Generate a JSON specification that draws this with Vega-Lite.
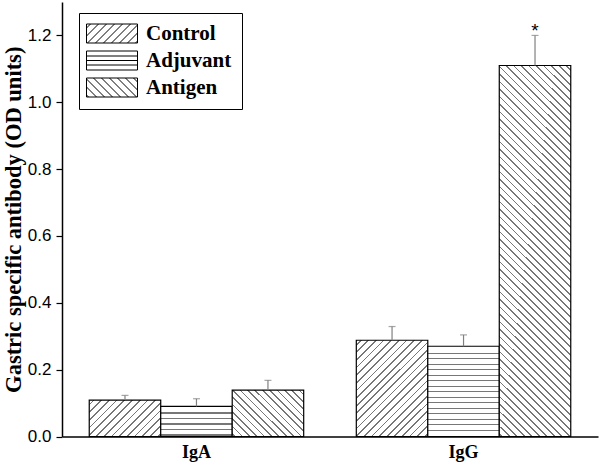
{
"$schema": "https://vega.github.io/schema/vega-lite/v6.json",
"autosize": {"type": "none"},
"padding": {"left": 62, "top": 2, "right": 2, "bottom": 27.5},
"width": 536,
"height": 434.5,
"background": "white",
"config": {"view": {"stroke": null}},
"data": {"values": [
 {"ig": "IgA", "group": "Control", "value": 0.109, "upper": 0.123, "sig": ""},
 {"ig": "IgA", "group": "Adjuvant", "value": 0.090, "upper": 0.113, "sig": ""},
 {"ig": "IgA", "group": "Antigen", "value": 0.139, "upper": 0.168, "sig": ""},
 {"ig": "IgG", "group": "Control", "value": 0.288, "upper": 0.329, "sig": ""},
 {"ig": "IgG", "group": "Adjuvant", "value": 0.270, "upper": 0.304, "sig": ""},
 {"ig": "IgG", "group": "Antigen", "value": 1.110, "upper": 1.200, "sig": "*"}
]},
"encoding": {
 "x": {"field": "ig", "type": "nominal", "sort": null,
  "scale": {"domain": ["IgA", "IgG"], "paddingInner": 0.197, "paddingOuter": 0.102},
  "axis": {"title": null, "ticks": false, "labelAngle": 0, "labelFont": "Liberation Serif", "labelFontWeight": "bold", "labelFontSize": 18, "labelColor": "black", "labelPadding": 7, "domainColor": "black", "domainWidth": 1.5}},
 "xOffset": {"field": "group", "type": "nominal", "sort": null,
  "scale": {"domain": ["Control", "Adjuvant", "Antigen"], "paddingInner": 0, "paddingOuter": 0}}
},
"layer": [
 {
  "mark": {"type": "bar", "stroke": "black", "strokeWidth": 1.2},
  "encoding": {
   "y": {"field": "value", "type": "quantitative",
    "scale": {"domain": [0, 1.3], "nice": false},
    "axis": {"title": "Gastric specific antibody (OD units)", "titleFont": "Liberation Serif", "titleFontWeight": "bold", "titleFontSize": 22.5, "titleColor": "black", "titleX": -37, "titleBaseline": "bottom",
     "values": [0, 0.1, 0.2, 0.3, 0.4, 0.5, 0.6, 0.7, 0.8, 0.9, 1, 1.1, 1.2, 1.3],
     "labelExpr": "round(datum.value*10)%2===0 ? format(datum.value,'.1f') : ''",
     "labelFont": "Liberation Sans", "labelFontSize": 17, "labelColor": "black", "labelPadding": 5,
     "tickSize": {"condition": {"test": "round(datum.value*10)%2===0", "value": 6}, "value": 3.5},
     "tickColor": "black", "tickWidth": 1.2, "domainColor": "black", "domainWidth": 1.5, "grid": false}},
   "fill": {"condition": [
    {"test": "datum.ig==='IgA' && datum.group==='Control'", "value": {"gradient": "linear", "x1": 0, "y1": 0, "x2": 1.1984, "y2": 0.6109, "stops": [
     {"offset":0.0357,"color":"#fff"},{"offset":0.0357,"color":"#777"},{"offset":0.0515,"color":"#777"},{"offset":0.0515,"color":"#fff"},
     {"offset":0.1071,"color":"#fff"},{"offset":0.1071,"color":"#777"},{"offset":0.1229,"color":"#777"},{"offset":0.1229,"color":"#fff"},
     {"offset":0.1786,"color":"#fff"},{"offset":0.1786,"color":"#777"},{"offset":0.1944,"color":"#777"},{"offset":0.1944,"color":"#fff"},
     {"offset":0.25,"color":"#fff"},{"offset":0.25,"color":"#777"},{"offset":0.2658,"color":"#777"},{"offset":0.2658,"color":"#fff"},
     {"offset":0.3214,"color":"#fff"},{"offset":0.3214,"color":"#777"},{"offset":0.3372,"color":"#777"},{"offset":0.3372,"color":"#fff"},
     {"offset":0.3929,"color":"#fff"},{"offset":0.3929,"color":"#777"},{"offset":0.4087,"color":"#777"},{"offset":0.4087,"color":"#fff"},
     {"offset":0.4643,"color":"#fff"},{"offset":0.4643,"color":"#777"},{"offset":0.4801,"color":"#777"},{"offset":0.4801,"color":"#fff"},
     {"offset":0.5357,"color":"#fff"},{"offset":0.5357,"color":"#777"},{"offset":0.5515,"color":"#777"},{"offset":0.5515,"color":"#fff"},
     {"offset":0.6071,"color":"#fff"},{"offset":0.6071,"color":"#777"},{"offset":0.6229,"color":"#777"},{"offset":0.6229,"color":"#fff"},
     {"offset":0.6786,"color":"#fff"},{"offset":0.6786,"color":"#777"},{"offset":0.6944,"color":"#777"},{"offset":0.6944,"color":"#fff"},
     {"offset":0.75,"color":"#fff"},{"offset":0.75,"color":"#777"},{"offset":0.7658,"color":"#777"},{"offset":0.7658,"color":"#fff"},
     {"offset":0.8214,"color":"#fff"},{"offset":0.8214,"color":"#777"},{"offset":0.8372,"color":"#777"},{"offset":0.8372,"color":"#fff"},
     {"offset":0.8929,"color":"#fff"},{"offset":0.8929,"color":"#777"},{"offset":0.9087,"color":"#777"},{"offset":0.9087,"color":"#fff"},
     {"offset":0.9643,"color":"#fff"},{"offset":0.9643,"color":"#777"},{"offset":0.9801,"color":"#777"},{"offset":0.9801,"color":"#fff"}
    ]}},
    {"test": "datum.ig==='IgA' && datum.group==='Adjuvant'", "value": {"gradient": "linear", "x1": 0, "y1": 0, "x2": 0, "y2": 1, "stops": [
     {"offset":0.199,"color":"#fff"},{"offset":0.199,"color":"#777"},{"offset":0.239,"color":"#777"},{"offset":0.239,"color":"#fff"},
     {"offset":0.379,"color":"#fff"},{"offset":0.379,"color":"#777"},{"offset":0.419,"color":"#777"},{"offset":0.419,"color":"#fff"},
     {"offset":0.565,"color":"#fff"},{"offset":0.565,"color":"#777"},{"offset":0.605,"color":"#777"},{"offset":0.605,"color":"#fff"},
     {"offset":0.754,"color":"#fff"},{"offset":0.754,"color":"#777"},{"offset":0.794,"color":"#777"},{"offset":0.794,"color":"#fff"},
     {"offset":0.930,"color":"#fff"},{"offset":0.930,"color":"#777"},{"offset":0.970,"color":"#777"},{"offset":0.970,"color":"#fff"}
    ]}},
    {"test": "datum.ig==='IgA' && datum.group==='Antigen'", "value": {"gradient": "linear", "x1": 1, "y1": 0, "x2": -0.1595, "y2": 0.7552, "stops": [
     {"offset":0.0313,"color":"#fff"},{"offset":0.0313,"color":"#777"},{"offset":0.0457,"color":"#777"},{"offset":0.0457,"color":"#fff"},
     {"offset":0.0938,"color":"#fff"},{"offset":0.0938,"color":"#777"},{"offset":0.1082,"color":"#777"},{"offset":0.1082,"color":"#fff"},
     {"offset":0.1563,"color":"#fff"},{"offset":0.1563,"color":"#777"},{"offset":0.1707,"color":"#777"},{"offset":0.1707,"color":"#fff"},
     {"offset":0.2188,"color":"#fff"},{"offset":0.2188,"color":"#777"},{"offset":0.2332,"color":"#777"},{"offset":0.2332,"color":"#fff"},
     {"offset":0.2813,"color":"#fff"},{"offset":0.2813,"color":"#777"},{"offset":0.2957,"color":"#777"},{"offset":0.2957,"color":"#fff"},
     {"offset":0.3438,"color":"#fff"},{"offset":0.3438,"color":"#777"},{"offset":0.3582,"color":"#777"},{"offset":0.3582,"color":"#fff"},
     {"offset":0.4063,"color":"#fff"},{"offset":0.4063,"color":"#777"},{"offset":0.4207,"color":"#777"},{"offset":0.4207,"color":"#fff"},
     {"offset":0.4688,"color":"#fff"},{"offset":0.4688,"color":"#777"},{"offset":0.4832,"color":"#777"},{"offset":0.4832,"color":"#fff"},
     {"offset":0.5313,"color":"#fff"},{"offset":0.5313,"color":"#777"},{"offset":0.5457,"color":"#777"},{"offset":0.5457,"color":"#fff"},
     {"offset":0.5938,"color":"#fff"},{"offset":0.5938,"color":"#777"},{"offset":0.6082,"color":"#777"},{"offset":0.6082,"color":"#fff"},
     {"offset":0.6563,"color":"#fff"},{"offset":0.6563,"color":"#777"},{"offset":0.6707,"color":"#777"},{"offset":0.6707,"color":"#fff"},
     {"offset":0.7188,"color":"#fff"},{"offset":0.7188,"color":"#777"},{"offset":0.7332,"color":"#777"},{"offset":0.7332,"color":"#fff"},
     {"offset":0.7813,"color":"#fff"},{"offset":0.7813,"color":"#777"},{"offset":0.7957,"color":"#777"},{"offset":0.7957,"color":"#fff"},
     {"offset":0.8438,"color":"#fff"},{"offset":0.8438,"color":"#777"},{"offset":0.8582,"color":"#777"},{"offset":0.8582,"color":"#fff"},
     {"offset":0.9063,"color":"#fff"},{"offset":0.9063,"color":"#777"},{"offset":0.9207,"color":"#777"},{"offset":0.9207,"color":"#fff"},
     {"offset":0.9688,"color":"#fff"},{"offset":0.9688,"color":"#777"},{"offset":0.9832,"color":"#777"},{"offset":0.9832,"color":"#fff"}
    ]}},
    {"test": "datum.ig==='IgG' && datum.group==='Control'", "value": {"gradient": "linear", "x1": 0, "y1": 0, "x2": 0.8332, "y2": 1.1237, "stops": [
     {"offset":0.0227,"color":"#fff"},{"offset":0.0227,"color":"#777"},{"offset":0.0328,"color":"#777"},{"offset":0.0328,"color":"#fff"},
     {"offset":0.0682,"color":"#fff"},{"offset":0.0682,"color":"#777"},{"offset":0.0783,"color":"#777"},{"offset":0.0783,"color":"#fff"},
     {"offset":0.1136,"color":"#fff"},{"offset":0.1136,"color":"#777"},{"offset":0.1237,"color":"#777"},{"offset":0.1237,"color":"#fff"},
     {"offset":0.1591,"color":"#fff"},{"offset":0.1591,"color":"#777"},{"offset":0.1692,"color":"#777"},{"offset":0.1692,"color":"#fff"},
     {"offset":0.2045,"color":"#fff"},{"offset":0.2045,"color":"#777"},{"offset":0.2146,"color":"#777"},{"offset":0.2146,"color":"#fff"},
     {"offset":0.25,"color":"#fff"},{"offset":0.25,"color":"#777"},{"offset":0.2601,"color":"#777"},{"offset":0.2601,"color":"#fff"},
     {"offset":0.2955,"color":"#fff"},{"offset":0.2955,"color":"#777"},{"offset":0.3056,"color":"#777"},{"offset":0.3056,"color":"#fff"},
     {"offset":0.3409,"color":"#fff"},{"offset":0.3409,"color":"#777"},{"offset":0.351,"color":"#777"},{"offset":0.351,"color":"#fff"},
     {"offset":0.3864,"color":"#fff"},{"offset":0.3864,"color":"#777"},{"offset":0.3965,"color":"#777"},{"offset":0.3965,"color":"#fff"},
     {"offset":0.4318,"color":"#fff"},{"offset":0.4318,"color":"#777"},{"offset":0.4419,"color":"#777"},{"offset":0.4419,"color":"#fff"},
     {"offset":0.4773,"color":"#fff"},{"offset":0.4773,"color":"#777"},{"offset":0.4874,"color":"#777"},{"offset":0.4874,"color":"#fff"},
     {"offset":0.5227,"color":"#fff"},{"offset":0.5227,"color":"#777"},{"offset":0.5328,"color":"#777"},{"offset":0.5328,"color":"#fff"},
     {"offset":0.5682,"color":"#fff"},{"offset":0.5682,"color":"#777"},{"offset":0.5783,"color":"#777"},{"offset":0.5783,"color":"#fff"},
     {"offset":0.6136,"color":"#fff"},{"offset":0.6136,"color":"#777"},{"offset":0.6237,"color":"#777"},{"offset":0.6237,"color":"#fff"},
     {"offset":0.6591,"color":"#fff"},{"offset":0.6591,"color":"#777"},{"offset":0.6692,"color":"#777"},{"offset":0.6692,"color":"#fff"},
     {"offset":0.7045,"color":"#fff"},{"offset":0.7045,"color":"#777"},{"offset":0.7146,"color":"#777"},{"offset":0.7146,"color":"#fff"},
     {"offset":0.75,"color":"#fff"},{"offset":0.75,"color":"#777"},{"offset":0.7601,"color":"#777"},{"offset":0.7601,"color":"#fff"},
     {"offset":0.7955,"color":"#fff"},{"offset":0.7955,"color":"#777"},{"offset":0.8056,"color":"#777"},{"offset":0.8056,"color":"#fff"},
     {"offset":0.8409,"color":"#fff"},{"offset":0.8409,"color":"#777"},{"offset":0.851,"color":"#777"},{"offset":0.851,"color":"#fff"},
     {"offset":0.8864,"color":"#fff"},{"offset":0.8864,"color":"#777"},{"offset":0.8965,"color":"#777"},{"offset":0.8965,"color":"#fff"},
     {"offset":0.9318,"color":"#fff"},{"offset":0.9318,"color":"#777"},{"offset":0.9419,"color":"#777"},{"offset":0.9419,"color":"#fff"},
     {"offset":0.9773,"color":"#fff"},{"offset":0.9773,"color":"#777"},{"offset":0.9874,"color":"#777"},{"offset":0.9874,"color":"#fff"}
    ]}},
    {"test": "datum.ig==='IgG' && datum.group==='Adjuvant'", "value": {"gradient": "linear", "x1": 0, "y1": 0, "x2": 0, "y2": 1, "stops": [
     {"offset":0.071,"color":"#fff"},{"offset":0.071,"color":"#777"},{"offset":0.0843,"color":"#777"},{"offset":0.0843,"color":"#fff"},
     {"offset":0.132,"color":"#fff"},{"offset":0.132,"color":"#777"},{"offset":0.1453,"color":"#777"},{"offset":0.1453,"color":"#fff"},
     {"offset":0.1929,"color":"#fff"},{"offset":0.1929,"color":"#777"},{"offset":0.2062,"color":"#777"},{"offset":0.2062,"color":"#fff"},
     {"offset":0.2539,"color":"#fff"},{"offset":0.2539,"color":"#777"},{"offset":0.2672,"color":"#777"},{"offset":0.2672,"color":"#fff"},
     {"offset":0.3149,"color":"#fff"},{"offset":0.3149,"color":"#777"},{"offset":0.3282,"color":"#777"},{"offset":0.3282,"color":"#fff"},
     {"offset":0.3759,"color":"#fff"},{"offset":0.3759,"color":"#777"},{"offset":0.3892,"color":"#777"},{"offset":0.3892,"color":"#fff"},
     {"offset":0.4369,"color":"#fff"},{"offset":0.4369,"color":"#777"},{"offset":0.4502,"color":"#777"},{"offset":0.4502,"color":"#fff"},
     {"offset":0.4979,"color":"#fff"},{"offset":0.4979,"color":"#777"},{"offset":0.5112,"color":"#777"},{"offset":0.5112,"color":"#fff"},
     {"offset":0.5588,"color":"#fff"},{"offset":0.5588,"color":"#777"},{"offset":0.5721,"color":"#777"},{"offset":0.5721,"color":"#fff"},
     {"offset":0.6198,"color":"#fff"},{"offset":0.6198,"color":"#777"},{"offset":0.6331,"color":"#777"},{"offset":0.6331,"color":"#fff"},
     {"offset":0.6808,"color":"#fff"},{"offset":0.6808,"color":"#777"},{"offset":0.6941,"color":"#777"},{"offset":0.6941,"color":"#fff"},
     {"offset":0.7418,"color":"#fff"},{"offset":0.7418,"color":"#777"},{"offset":0.7551,"color":"#777"},{"offset":0.7551,"color":"#fff"},
     {"offset":0.8028,"color":"#fff"},{"offset":0.8028,"color":"#777"},{"offset":0.8161,"color":"#777"},{"offset":0.8161,"color":"#fff"},
     {"offset":0.8638,"color":"#fff"},{"offset":0.8638,"color":"#777"},{"offset":0.8771,"color":"#777"},{"offset":0.8771,"color":"#fff"},
     {"offset":0.9247,"color":"#fff"},{"offset":0.9247,"color":"#777"},{"offset":0.938,"color":"#777"},{"offset":0.938,"color":"#fff"}
    ]}},
    {"test": "datum.ig==='IgG' && datum.group==='Antigen'", "value": {"gradient": "linear", "x1": 1, "y1": 0, "x2": 0.7787, "y2": 1.1499, "stops": [
     {"offset":0.0085,"color":"#fff"},{"offset":0.0085,"color":"#777"},{"offset":0.0123,"color":"#777"},{"offset":0.0123,"color":"#fff"},
     {"offset":0.0254,"color":"#fff"},{"offset":0.0254,"color":"#777"},{"offset":0.0292,"color":"#777"},{"offset":0.0292,"color":"#fff"},
     {"offset":0.0424,"color":"#fff"},{"offset":0.0424,"color":"#777"},{"offset":0.0462,"color":"#777"},{"offset":0.0462,"color":"#fff"},
     {"offset":0.0593,"color":"#fff"},{"offset":0.0593,"color":"#777"},{"offset":0.0631,"color":"#777"},{"offset":0.0631,"color":"#fff"},
     {"offset":0.0763,"color":"#fff"},{"offset":0.0763,"color":"#777"},{"offset":0.0801,"color":"#777"},{"offset":0.0801,"color":"#fff"},
     {"offset":0.0932,"color":"#fff"},{"offset":0.0932,"color":"#777"},{"offset":0.097,"color":"#777"},{"offset":0.097,"color":"#fff"},
     {"offset":0.1102,"color":"#fff"},{"offset":0.1102,"color":"#777"},{"offset":0.114,"color":"#777"},{"offset":0.114,"color":"#fff"},
     {"offset":0.1271,"color":"#fff"},{"offset":0.1271,"color":"#777"},{"offset":0.1309,"color":"#777"},{"offset":0.1309,"color":"#fff"},
     {"offset":0.1441,"color":"#fff"},{"offset":0.1441,"color":"#777"},{"offset":0.1479,"color":"#777"},{"offset":0.1479,"color":"#fff"},
     {"offset":0.161,"color":"#fff"},{"offset":0.161,"color":"#777"},{"offset":0.1648,"color":"#777"},{"offset":0.1648,"color":"#fff"},
     {"offset":0.178,"color":"#fff"},{"offset":0.178,"color":"#777"},{"offset":0.1818,"color":"#777"},{"offset":0.1818,"color":"#fff"},
     {"offset":0.1949,"color":"#fff"},{"offset":0.1949,"color":"#777"},{"offset":0.1987,"color":"#777"},{"offset":0.1987,"color":"#fff"},
     {"offset":0.2119,"color":"#fff"},{"offset":0.2119,"color":"#777"},{"offset":0.2157,"color":"#777"},{"offset":0.2157,"color":"#fff"},
     {"offset":0.2288,"color":"#fff"},{"offset":0.2288,"color":"#777"},{"offset":0.2326,"color":"#777"},{"offset":0.2326,"color":"#fff"},
     {"offset":0.2458,"color":"#fff"},{"offset":0.2458,"color":"#777"},{"offset":0.2496,"color":"#777"},{"offset":0.2496,"color":"#fff"},
     {"offset":0.2627,"color":"#fff"},{"offset":0.2627,"color":"#777"},{"offset":0.2665,"color":"#777"},{"offset":0.2665,"color":"#fff"},
     {"offset":0.2797,"color":"#fff"},{"offset":0.2797,"color":"#777"},{"offset":0.2835,"color":"#777"},{"offset":0.2835,"color":"#fff"},
     {"offset":0.2966,"color":"#fff"},{"offset":0.2966,"color":"#777"},{"offset":0.3004,"color":"#777"},{"offset":0.3004,"color":"#fff"},
     {"offset":0.3136,"color":"#fff"},{"offset":0.3136,"color":"#777"},{"offset":0.3174,"color":"#777"},{"offset":0.3174,"color":"#fff"},
     {"offset":0.3305,"color":"#fff"},{"offset":0.3305,"color":"#777"},{"offset":0.3343,"color":"#777"},{"offset":0.3343,"color":"#fff"},
     {"offset":0.3475,"color":"#fff"},{"offset":0.3475,"color":"#777"},{"offset":0.3513,"color":"#777"},{"offset":0.3513,"color":"#fff"},
     {"offset":0.3644,"color":"#fff"},{"offset":0.3644,"color":"#777"},{"offset":0.3682,"color":"#777"},{"offset":0.3682,"color":"#fff"},
     {"offset":0.3814,"color":"#fff"},{"offset":0.3814,"color":"#777"},{"offset":0.3852,"color":"#777"},{"offset":0.3852,"color":"#fff"},
     {"offset":0.3983,"color":"#fff"},{"offset":0.3983,"color":"#777"},{"offset":0.4021,"color":"#777"},{"offset":0.4021,"color":"#fff"},
     {"offset":0.4153,"color":"#fff"},{"offset":0.4153,"color":"#777"},{"offset":0.4191,"color":"#777"},{"offset":0.4191,"color":"#fff"},
     {"offset":0.4322,"color":"#fff"},{"offset":0.4322,"color":"#777"},{"offset":0.436,"color":"#777"},{"offset":0.436,"color":"#fff"},
     {"offset":0.4492,"color":"#fff"},{"offset":0.4492,"color":"#777"},{"offset":0.453,"color":"#777"},{"offset":0.453,"color":"#fff"},
     {"offset":0.4661,"color":"#fff"},{"offset":0.4661,"color":"#777"},{"offset":0.4699,"color":"#777"},{"offset":0.4699,"color":"#fff"},
     {"offset":0.4831,"color":"#fff"},{"offset":0.4831,"color":"#777"},{"offset":0.4869,"color":"#777"},{"offset":0.4869,"color":"#fff"},
     {"offset":0.5,"color":"#fff"},{"offset":0.5,"color":"#777"},{"offset":0.5038,"color":"#777"},{"offset":0.5038,"color":"#fff"},
     {"offset":0.5169,"color":"#fff"},{"offset":0.5169,"color":"#777"},{"offset":0.5207,"color":"#777"},{"offset":0.5207,"color":"#fff"},
     {"offset":0.5339,"color":"#fff"},{"offset":0.5339,"color":"#777"},{"offset":0.5377,"color":"#777"},{"offset":0.5377,"color":"#fff"},
     {"offset":0.5508,"color":"#fff"},{"offset":0.5508,"color":"#777"},{"offset":0.5546,"color":"#777"},{"offset":0.5546,"color":"#fff"},
     {"offset":0.5678,"color":"#fff"},{"offset":0.5678,"color":"#777"},{"offset":0.5716,"color":"#777"},{"offset":0.5716,"color":"#fff"},
     {"offset":0.5847,"color":"#fff"},{"offset":0.5847,"color":"#777"},{"offset":0.5885,"color":"#777"},{"offset":0.5885,"color":"#fff"},
     {"offset":0.6017,"color":"#fff"},{"offset":0.6017,"color":"#777"},{"offset":0.6055,"color":"#777"},{"offset":0.6055,"color":"#fff"},
     {"offset":0.6186,"color":"#fff"},{"offset":0.6186,"color":"#777"},{"offset":0.6224,"color":"#777"},{"offset":0.6224,"color":"#fff"},
     {"offset":0.6356,"color":"#fff"},{"offset":0.6356,"color":"#777"},{"offset":0.6394,"color":"#777"},{"offset":0.6394,"color":"#fff"},
     {"offset":0.6525,"color":"#fff"},{"offset":0.6525,"color":"#777"},{"offset":0.6563,"color":"#777"},{"offset":0.6563,"color":"#fff"},
     {"offset":0.6695,"color":"#fff"},{"offset":0.6695,"color":"#777"},{"offset":0.6733,"color":"#777"},{"offset":0.6733,"color":"#fff"},
     {"offset":0.6864,"color":"#fff"},{"offset":0.6864,"color":"#777"},{"offset":0.6902,"color":"#777"},{"offset":0.6902,"color":"#fff"},
     {"offset":0.7034,"color":"#fff"},{"offset":0.7034,"color":"#777"},{"offset":0.7072,"color":"#777"},{"offset":0.7072,"color":"#fff"},
     {"offset":0.7203,"color":"#fff"},{"offset":0.7203,"color":"#777"},{"offset":0.7241,"color":"#777"},{"offset":0.7241,"color":"#fff"},
     {"offset":0.7373,"color":"#fff"},{"offset":0.7373,"color":"#777"},{"offset":0.7411,"color":"#777"},{"offset":0.7411,"color":"#fff"},
     {"offset":0.7542,"color":"#fff"},{"offset":0.7542,"color":"#777"},{"offset":0.758,"color":"#777"},{"offset":0.758,"color":"#fff"},
     {"offset":0.7712,"color":"#fff"},{"offset":0.7712,"color":"#777"},{"offset":0.775,"color":"#777"},{"offset":0.775,"color":"#fff"},
     {"offset":0.7881,"color":"#fff"},{"offset":0.7881,"color":"#777"},{"offset":0.7919,"color":"#777"},{"offset":0.7919,"color":"#fff"},
     {"offset":0.8051,"color":"#fff"},{"offset":0.8051,"color":"#777"},{"offset":0.8089,"color":"#777"},{"offset":0.8089,"color":"#fff"},
     {"offset":0.822,"color":"#fff"},{"offset":0.822,"color":"#777"},{"offset":0.8258,"color":"#777"},{"offset":0.8258,"color":"#fff"},
     {"offset":0.839,"color":"#fff"},{"offset":0.839,"color":"#777"},{"offset":0.8428,"color":"#777"},{"offset":0.8428,"color":"#fff"},
     {"offset":0.8559,"color":"#fff"},{"offset":0.8559,"color":"#777"},{"offset":0.8597,"color":"#777"},{"offset":0.8597,"color":"#fff"},
     {"offset":0.8729,"color":"#fff"},{"offset":0.8729,"color":"#777"},{"offset":0.8767,"color":"#777"},{"offset":0.8767,"color":"#fff"},
     {"offset":0.8898,"color":"#fff"},{"offset":0.8898,"color":"#777"},{"offset":0.8936,"color":"#777"},{"offset":0.8936,"color":"#fff"},
     {"offset":0.9068,"color":"#fff"},{"offset":0.9068,"color":"#777"},{"offset":0.9106,"color":"#777"},{"offset":0.9106,"color":"#fff"},
     {"offset":0.9237,"color":"#fff"},{"offset":0.9237,"color":"#777"},{"offset":0.9275,"color":"#777"},{"offset":0.9275,"color":"#fff"},
     {"offset":0.9407,"color":"#fff"},{"offset":0.9407,"color":"#777"},{"offset":0.9445,"color":"#777"},{"offset":0.9445,"color":"#fff"},
     {"offset":0.9576,"color":"#fff"},{"offset":0.9576,"color":"#777"},{"offset":0.9614,"color":"#777"},{"offset":0.9614,"color":"#fff"},
     {"offset":0.9746,"color":"#fff"},{"offset":0.9746,"color":"#777"},{"offset":0.9784,"color":"#777"},{"offset":0.9784,"color":"#fff"},
     {"offset":0.9915,"color":"#fff"},{"offset":0.9915,"color":"#777"},{"offset":0.9953,"color":"#777"},{"offset":0.9953,"color":"#fff"}
    ]}}
   ], "value": "white"}
  }
 },
 {
  "mark": {"type": "rule", "color": "#808080", "strokeWidth": 1.2},
  "encoding": {"y": {"field": "value", "type": "quantitative"}, "y2": {"field": "upper"}}
 },
 {
  "mark": {"type": "tick", "color": "#808080", "thickness": 1.2, "size": 7},
  "encoding": {"y": {"field": "upper", "type": "quantitative"}}
 },
 {
  "transform": [{"filter": "datum.sig === '*'"}],
  "mark": {"type": "text", "font": "Liberation Sans", "fontSize": 19, "color": "black", "baseline": "alphabetic", "dy": 2},
  "encoding": {"y": {"field": "upper", "type": "quantitative"}, "text": {"field": "sig"}}
 },
 {
  "transform": [{"filter": "false"}],
  "mark": {"type": "point", "filled": false, "stroke": "black", "strokeWidth": 1, "opacity": 1},
  "encoding": {
   "y": {"field": "value", "type": "quantitative"},
   "shape": {"field": "group", "type": "nominal",
    "scale": {"domain": ["Control", "Adjuvant", "Antigen"], "range": [
     "M-1.3,-0.95H3.8V0.95H-1.3Z M-1.3,-0.55L-0.9,-0.95 M-1.3,0.25L-0.1,-0.95 M-1.2,0.95L0.7,-0.95 M-0.4,0.95L1.5,-0.95 M0.4,0.95L2.3,-0.95 M1.2,0.95L3.1,-0.95 M2,0.95L3.8,-0.85 M2.8,0.95L3.8,-0.05 M3.6,0.95L3.8,0.75",
     "M-1.3,-0.95H3.8V0.95H-1.3Z M-1.3,-0.45H3.8 M-1.3,0H3.8 M-1.3,0.45H3.8",
     "M-1.3,-0.95H3.8V0.95H-1.3Z M3.8,-0.55L3.4,-0.95 M3.8,0.25L2.6,-0.95 M3.7,0.95L1.8,-0.95 M2.9,0.95L1,-0.95 M2.1,0.95L0.2,-0.95 M1.3,0.95L-0.6,-0.95 M0.5,0.95L-1.3,-0.85 M-0.3,0.95L-1.3,-0.05 M-1.1,0.95L-1.3,0.75"
    ]},
    "legend": {"title": null, "orient": "none", "legendX": 17, "legendY": 11, "padding": 10, "strokeColor": "black", "fillColor": "white",
     "symbolSize": 400, "symbolStrokeWidth": 1, "symbolStrokeColor": "black", "symbolFillColor": "white", "symbolOpacity": 1,
     "labelFont": "Liberation Serif", "labelFontWeight": "bold", "labelFontSize": 21, "labelColor": "black", "labelOffset": 36, "rowPadding": 4}}
  }
 }
]
}
